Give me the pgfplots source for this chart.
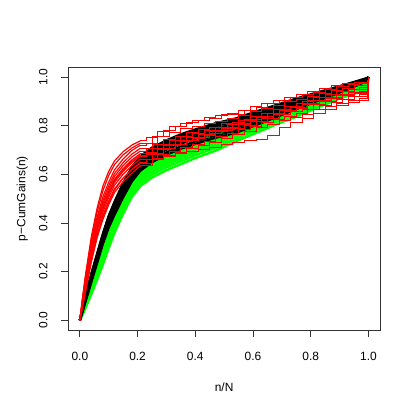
\documentclass[border=0pt]{standalone}
\usepackage{fontspec}
\setmainfont{Liberation Sans}
\usepackage{pgfplots}
\usepackage{pgfplotstable}
\pgfplotsset{compat=1.18}

% black curves
\pgfplotstableread{
x     b1    b2    b3    b4    b5    b6    b7    b8
0     0     0     0     0     0     0     0     0
0.01  .037  .040  .043  .045  .047  .050  .052  .053
0.02  .078  .082  .086  .090  .094  .097  .100  .102
0.04  .157  .163  .170  .175  .180  .186  .190  .193
0.06  .235  .242  .249  .255  .261  .267  .272  .275
0.08  .313  .321  .328  .335  .342  .348  .354  .357
0.10  .380  .389  .398  .405  .413  .420  .426  .430
0.12  .433  .442  .452  .460  .468  .476  .483  .487
0.15  .505  .515  .526  .535  .544  .553  .560  .565
0.18  .570  .580  .591  .600  .609  .618  .625  .630
0.21  .615  .625  .636  .645  .654  .663  .670  .675
0.25  .650  .660  .671  .680  .689  .698  .705  .710
0.30  .680  .690  .701  .710  .719  .728  .735  .740
0.35  .705  .715  .726  .735  .744  .753  .760  .765
0.40  .725  .735  .746  .755  .764  .773  .780  .785
0.47  .750  .760  .771  .780  .789  .798  .805  .810
0.54  .770  .780  .791  .800  .809  .818  .825  .830
0.61  .802  .812  .822  .830  .838  .847  .854  .858
0.68  .835  .844  .853  .860  .868  .875  .881  .885
0.75  .868  .876  .883  .890  .897  .903  .909  .912
0.82  .900  .906  .913  .918  .923  .929  .933  .936
0.89  .931  .936  .941  .945  .949  .953  .957  .959
0.95  .960  .964  .967  .970  .973  .976  .978  .980
0.995 .984  .986  .988  .990  .992  .994  .995  .996
1     1     1     1     1     1     1     1     1
}\blacktab

% green curves
\pgfplotstableread{
x     g1    g2    g3    g4    g5    g6    g7    g8
0     0     0     0     0     0     0     0     0
0.01  .024  .027  .030  .032  .034  .037  .039  .040
0.02  .052  .056  .060  .064  .068  .071  .074  .076
0.04  .108  .114  .121  .126  .131  .137  .141  .144
0.06  .168  .176  .183  .190  .197  .203  .209  .212
0.08  .230  .239  .248  .255  .263  .270  .276  .280
0.10  .297  .307  .317  .325  .333  .342  .349  .353
0.12  .360  .370  .381  .390  .399  .408  .416  .420
0.15  .438  .449  .460  .470  .480  .489  .497  .502
0.18  .507  .519  .530  .540  .550  .560  .568  .573
0.21  .552  .564  .575  .585  .595  .605  .613  .618
0.25  .587  .599  .610  .620  .630  .640  .648  .653
0.30  .617  .629  .640  .650  .660  .670  .678  .683
0.35  .642  .654  .665  .675  .685  .695  .703  .708
0.40  .667  .679  .690  .700  .710  .720  .728  .733
0.47  .697  .709  .720  .730  .740  .750  .758  .763
0.54  .735  .746  .756  .765  .774  .783  .791  .795
0.61  .770  .781  .791  .800  .809  .818  .826  .830
0.68  .805  .816  .826  .835  .844  .853  .861  .865
0.75  .837  .847  .857  .865  .873  .882  .889  .893
0.82  .873  .881  .888  .895  .902  .908  .914  .917
0.89  .907  .913  .920  .925  .930  .936  .940  .943
0.95  .932  .938  .945  .950  .955  .961  .965  .968
0.995 .945  .952  .959  .965  .971  .977  .982  .985
1     1     1     1     1     1     1     1     1
}\greentab

% red curves, smooth start
\pgfplotstableread{
x     r1    r2    r3    r4    r5    r6    r7    r8    r9    r10   r11   r12
0     0     0     0     0     0     0     0     0     0     0     0     0
0.01  .060  .065  .070  .074  .078  .082  .086  .091  .096  .100  .062  .076
0.02  .120  .129  .138  .145  .152  .159  .166  .174  .183  .190  .125  .148
0.04  .240  .253  .265  .275  .285  .295  .305  .318  .332  .345  .250  .280
0.06  .340  .354  .368  .379  .390  .401  .412  .425  .445  .462  .350  .384
0.08  .415  .430  .445  .457  .469  .481  .493  .508  .533  .552  .425  .463
0.10  .475  .490  .505  .517  .529  .541  .553  .568  .595  .612  .485  .523
0.12  .525  .540  .555  .567  .579  .591  .603  .618  .640  .655  .535  .573
0.15  .570  .585  .600  .612  .624  .636  .648  .663  .680  .693  .585  .618
0.18  .605  .620  .635  .647  .659  .671  .683  .698  .708  .720  .620  .653
0.21  .635  .649  .663  .674  .685  .696  .707  .720  .728  .738  .645  .679
}\redstart

% red curves, stepped part (first set)
\pgfplotstableread{
x     r1    r3    r5    r7    r9    r11
0.21  .635  .663  .685  .707  .728  .645
0.25  .660  .685  .705  .725  .758  .665
0.29  .674  .708  .720  .743  .782  .676
0.33  .690  .722  .738  .757  .798  .686
0.37  .706  .738  .750  .772  .813  .693
0.41  .718  .752  .763  .783  .822  .702
0.45  .732  .768  .776  .795  .832  .710
0.49  .747  .779  .790  .808  .845  .722
0.53  .765  .788  .806  .812  .848  .733
0.57  .778  .803  .820  .826  .862  .740
0.61  .795  .818  .835  .838  .876  .745
0.65  .806  .832  .849  .851  .890  .762
0.69  .822  .845  .862  .866  .902  .795
0.73  .834  .857  .875  .880  .915  .812
0.77  .846  .869  .887  .899  .927  .830
0.81  .866  .886  .902  .918  .938  .852
0.85  .878  .898  .914  .930  .950  .868
0.89  .890  .910  .926  .942  .962  .885
0.93  .905  .922  .936  .950  .968  .895
0.97  .912  .930  .943  .958  .975  .902
0.995 .915  .933  .947  .961  .978  .905
1     1     1     1     1     1     1
}\redA

% red curves, stepped part (second set)
\pgfplotstableread{
x     r2    r4    r6    r8    r10   r12
0.21  .649  .674  .696  .720  .738  .679
0.23  .661  .684  .705  .729  .750  .690
0.27  .680  .703  .723  .755  .776  .708
0.31  .696  .719  .739  .772  .797  .724
0.35  .712  .735  .755  .787  .810  .740
0.39  .724  .747  .767  .797  .822  .752
0.43  .737  .759  .779  .808  .833  .764
0.47  .754  .776  .795  .818  .842  .780
0.51  .767  .788  .807  .829  .852  .793
0.55  .784  .804  .822  .843  .863  .809
0.59  .799  .819  .837  .858  .878  .824
0.63  .812  .832  .851  .871  .891  .837
0.67  .826  .846  .865  .885  .905  .851
0.71  .839  .860  .878  .898  .918  .864
0.75  .851  .872  .890  .910  .930  .876
0.79  .867  .886  .903  .922  .941  .890
0.83  .882  .900  .916  .934  .952  .904
0.87  .894  .912  .928  .946  .964  .916
0.91  .907  .924  .939  .955  .972  .928
0.95  .919  .934  .949  .964  .980  .938
0.995 .924  .940  .954  .969  .985  .943
1     1     1     1     1     1     1
}\redB

\begin{document}
\begin{tikzpicture}
\path[use as bounding box] (-68.3bp,-85bp) rectangle (346.7bp,330bp);
\begin{axis}[
  at={(0,0)}, anchor=south west,
  scale only axis, width=311.7bp, height=262.7bp,
  xmin=-0.04, xmax=1.04, ymin=-0.04, ymax=1.04,
  xtick={0,0.2,0.4,0.6,0.8,1}, xticklabels={0.0,0.2,0.4,0.6,0.8,1.0},
  ytick={0,0.2,0.4,0.6,0.8,1}, yticklabels={0.0,0.2,0.4,0.6,0.8,1.0},
  tick pos=left, tick align=outside, major tick length=7bp,
  axis line style={black!80, line width=0.8pt},
  every tick/.style={black!80, line width=0.8pt},
  tick label style={font=\fontsize{12}{14}\selectfont},
  xticklabel style={anchor=base}, xticklabel shift=23.5bp,
  yticklabel style={rotate=90, anchor=base}, yticklabel shift=14bp,
  label style={font=\fontsize{12}{14}\selectfont},
  xlabel={n/N}, ylabel={p−CumGains(n)},
  xlabel style={at={(axis description cs:0.5,-0.236)}, anchor=base},
  ylabel style={at={(axis description cs:-0.138,0.5)}, anchor=base},
  blk/.style={color=black, line width=2.2bp, line join=round},
  grn/.style={color=green, line width=2.4bp, line join=round},
  redl/.style={color=red, line width=1.2bp},
  reds/.style={color=red, line width=0.75bp, const plot mark left},
]
\pgfplotsinvokeforeach{1,...,8}{
  \addplot[grn] table[x=x, y=g#1] {\greentab};
}
\pgfplotsinvokeforeach{1,...,8}{
  \addplot[blk] table[x=x, y=b#1] {\blacktab};
}
\pgfplotsinvokeforeach{1,...,12}{
  \addplot[redl] table[x=x, y=r#1] {\redstart};
}
\addplot[reds] table[x=x, y=r1] {\redA};
\addplot[reds] table[x=x, y=r3] {\redA};
\addplot[reds] table[x=x, y=r5] {\redA};
\addplot[reds] table[x=x, y=r7] {\redA};
\addplot[reds] table[x=x, y=r9] {\redA};
\addplot[reds] table[x=x, y=r11] {\redA};
\addplot[reds] table[x=x, y=r2] {\redB};
\addplot[reds] table[x=x, y=r4] {\redB};
\addplot[reds] table[x=x, y=r6] {\redB};
\addplot[reds] table[x=x, y=r8] {\redB};
\addplot[reds] table[x=x, y=r10] {\redB};
\addplot[reds] table[x=x, y=r12] {\redB};
\end{axis}
\end{tikzpicture}
\end{document}
